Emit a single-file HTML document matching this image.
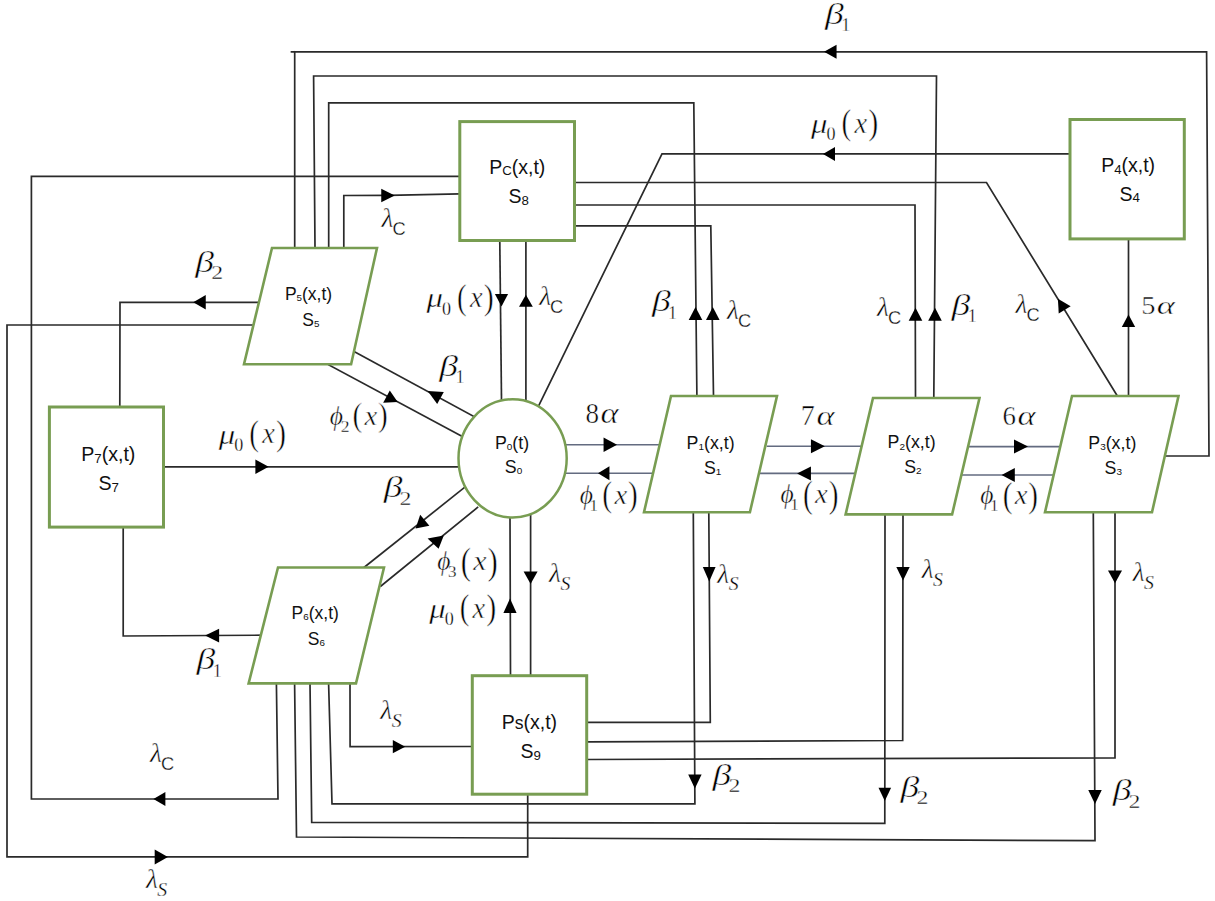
<!DOCTYPE html>
<html><head><meta charset="utf-8"><style>
html,body{margin:0;padding:0;background:#fff;}
body{width:1215px;height:901px;overflow:hidden;}
svg{display:block;}
</style></head><body>
<svg width="1215" height="901" viewBox="0 0 1215 901">
<rect width="1215" height="901" fill="#fff"/>
<polyline points="1163.7,456 1209,456 1206.6,51.8 291.5,51.8" fill="none" stroke="#2a2a2a" stroke-width="1.7" stroke-linejoin="miter" stroke-linecap="square"/>
<polyline points="294.7,51.8 294.7,248" fill="none" stroke="#2a2a2a" stroke-width="1.7" stroke-linejoin="miter" stroke-linecap="square"/>
<polygon points="824.05,51.80 836.55,44.80 836.55,58.80" fill="#000"/>
<polyline points="933.8,398 936.5,76 313.6,76 315,248" fill="none" stroke="#2a2a2a" stroke-width="1.7" stroke-linejoin="miter" stroke-linecap="square"/>
<polygon points="935.00,307.70 941.80,320.70 928.20,320.70" fill="#000"/>
<polyline points="696.9,396 693.8,102.9 328.7,102.9 328.7,248" fill="none" stroke="#2a2a2a" stroke-width="1.7" stroke-linejoin="miter" stroke-linecap="square"/>
<polygon points="695.50,306.90 702.30,319.90 688.70,319.90" fill="#000"/>
<polyline points="343.8,248 343.8,195.5 388,195.3 459,193.9" fill="none" stroke="#2a2a2a" stroke-width="1.7" stroke-linejoin="miter" stroke-linecap="square"/>
<polygon points="394.75,195.50 381.25,202.30 381.25,188.70" fill="#000"/>
<polyline points="459,176.3 31.4,176.3 31.4,799 278,799 276.4,683" fill="none" stroke="#2a2a2a" stroke-width="1.7" stroke-linejoin="miter" stroke-linecap="square"/>
<polygon points="153.40,799.00 165.40,792.00 165.40,806.00" fill="#000"/>
<polyline points="259,302.3 120,302.3 119.8,405.5" fill="none" stroke="#2a2a2a" stroke-width="1.7" stroke-linejoin="miter" stroke-linecap="square"/>
<polygon points="193.25,302.30 205.75,295.10 205.75,309.50" fill="#000"/>
<polyline points="252,325 7,325 7,856.9 527.7,856.9 527.7,795.7" fill="none" stroke="#2a2a2a" stroke-width="1.7" stroke-linejoin="miter" stroke-linecap="square"/>
<polygon points="167.90,856.90 154.70,864.40 154.70,849.40" fill="#000"/>
<polyline points="499.8,242 501.5,400" fill="none" stroke="#2a2a2a" stroke-width="1.7" stroke-linejoin="miter" stroke-linecap="square"/>
<polygon points="501.50,306.60 494.90,294.00 508.10,294.00" fill="#000"/>
<polyline points="525.9,242 525.9,402" fill="none" stroke="#2a2a2a" stroke-width="1.7" stroke-linejoin="miter" stroke-linecap="square"/>
<polygon points="525.90,294.70 532.80,306.70 519.00,306.70" fill="#000"/>
<polyline points="1068.5,153.8 662,153.8 539,405" fill="none" stroke="#2a2a2a" stroke-width="1.7" stroke-linejoin="miter" stroke-linecap="square"/>
<polygon points="823.00,154.00 835.00,146.90 835.00,161.10" fill="#000"/>
<polyline points="576,182.5 986.5,182.5 1118.6,398" fill="none" stroke="#2a2a2a" stroke-width="1.7" stroke-linejoin="miter" stroke-linecap="square"/>
<polygon points="1057.91,298.76 1070.66,306.19 1058.72,313.50" fill="#000"/>
<polyline points="576,205 915,205 915.5,398" fill="none" stroke="#2a2a2a" stroke-width="1.7" stroke-linejoin="miter" stroke-linecap="square"/>
<polygon points="915.50,307.70 922.30,320.70 908.70,320.70" fill="#000"/>
<polyline points="576,225.8 710.8,225.8 713.5,396" fill="none" stroke="#2a2a2a" stroke-width="1.7" stroke-linejoin="miter" stroke-linecap="square"/>
<polygon points="712.80,306.90 719.60,319.90 706.00,319.90" fill="#000"/>
<polyline points="1128.5,240.4 1128.5,396" fill="none" stroke="#2a2a2a" stroke-width="1.7" stroke-linejoin="miter" stroke-linecap="square"/>
<polygon points="1128.50,314.40 1135.20,327.00 1121.80,327.00" fill="#000"/>
<polyline points="165,466.8 459.5,466.8" fill="none" stroke="#2a2a2a" stroke-width="1.7" stroke-linejoin="miter" stroke-linecap="square"/>
<polygon points="268.65,466.80 255.35,474.00 255.35,459.60" fill="#000"/>
<polyline points="328.9,364.9 462.5,436.5" fill="none" stroke="#2a2a2a" stroke-width="1.7" stroke-linejoin="miter" stroke-linecap="square"/>
<polygon points="389.8,390.5 383.2,402.7 397.7,402.1" fill="#000"/>
<polyline points="474,416.5 352,350.4" fill="none" stroke="#2a2a2a" stroke-width="1.7" stroke-linejoin="miter" stroke-linecap="square"/>
<polygon points="427.7,390.9 443.8,391.9 437.2,404" fill="#000"/>
<polyline points="465.5,486.7 364,567.5" fill="none" stroke="#2a2a2a" stroke-width="1.7" stroke-linejoin="miter" stroke-linecap="square"/>
<polygon points="420.2,514.8 429.4,525.7 415.6,528.6" fill="#000"/>
<polyline points="381,586 477.5,507.5" fill="none" stroke="#2a2a2a" stroke-width="1.7" stroke-linejoin="miter" stroke-linecap="square"/>
<polygon points="427.6,538.4 443.8,535.5 438.6,548.8" fill="#000"/>
<polyline points="565,444.8 659,444.8" fill="none" stroke="#636b80" stroke-width="1.6" stroke-linejoin="miter" stroke-linecap="square"/>
<polygon points="617.05,444.80 603.55,452.00 603.55,437.60" fill="#000"/>
<polyline points="652,473.2 563,473.2" fill="none" stroke="#636b80" stroke-width="1.6" stroke-linejoin="miter" stroke-linecap="square"/>
<polygon points="597.95,473.20 609.45,466.20 609.45,480.20" fill="#000"/>
<polyline points="767.5,446.3 861.5,446.3" fill="none" stroke="#636b80" stroke-width="1.6" stroke-linejoin="miter" stroke-linecap="square"/>
<polygon points="824.85,446.30 810.95,453.30 810.95,439.30" fill="#000"/>
<polyline points="760,473.4 854.6,473.4" fill="none" stroke="#636b80" stroke-width="1.6" stroke-linejoin="miter" stroke-linecap="square"/>
<polygon points="797.05,473.40 810.95,466.40 810.95,480.40" fill="#000"/>
<polyline points="968.3,446.6 1059.9,446.6" fill="none" stroke="#636b80" stroke-width="1.6" stroke-linejoin="miter" stroke-linecap="square"/>
<polygon points="1028.00,446.60 1014.00,453.60 1014.00,439.60" fill="#000"/>
<polyline points="961.4,475 1055.7,475" fill="none" stroke="#636b80" stroke-width="1.6" stroke-linejoin="miter" stroke-linecap="square"/>
<polygon points="1001.60,475.00 1014.80,468.00 1014.80,482.00" fill="#000"/>
<polyline points="530.6,515 530.6,674.2" fill="none" stroke="#2a2a2a" stroke-width="1.7" stroke-linejoin="miter" stroke-linecap="square"/>
<polygon points="530.60,584.05 523.60,571.55 537.60,571.55" fill="#000"/>
<polyline points="510.5,674.2 510,516" fill="none" stroke="#2a2a2a" stroke-width="1.7" stroke-linejoin="miter" stroke-linecap="square"/>
<polygon points="510.00,598.55 516.60,613.05 503.40,613.05" fill="#000"/>
<polyline points="262.3,635.2 123.2,636 123.2,528.6" fill="none" stroke="#2a2a2a" stroke-width="1.7" stroke-linejoin="miter" stroke-linecap="square"/>
<polygon points="205.10,635.60 219.10,628.80 219.10,642.40" fill="#000"/>
<polyline points="350,683.4 350.1,746.7 470.8,746.5" fill="none" stroke="#2a2a2a" stroke-width="1.7" stroke-linejoin="miter" stroke-linecap="square"/>
<polygon points="405.20,746.70 392.80,753.30 392.80,740.10" fill="#000"/>
<polyline points="328.6,683.4 332,803.8 694.9,803.9 693.3,512.2" fill="none" stroke="#2a2a2a" stroke-width="1.7" stroke-linejoin="miter" stroke-linecap="square"/>
<polygon points="694.90,788.45 688.20,774.55 701.60,774.55" fill="#000"/>
<polyline points="310,683.4 311.7,822.3 884.8,823.4 885,514.4" fill="none" stroke="#2a2a2a" stroke-width="1.7" stroke-linejoin="miter" stroke-linecap="square"/>
<polygon points="884.80,800.95 878.50,787.65 891.10,787.65" fill="#000"/>
<polyline points="294.6,683.4 296.5,837 1095,840.7 1093.3,512.2" fill="none" stroke="#2a2a2a" stroke-width="1.7" stroke-linejoin="miter" stroke-linecap="square"/>
<polygon points="1095.00,804.05 1088.25,789.95 1101.75,789.95" fill="#000"/>
<polyline points="588.2,722.4 710.3,722.4 708.8,512.2" fill="none" stroke="#2a2a2a" stroke-width="1.7" stroke-linejoin="miter" stroke-linecap="square"/>
<polygon points="709.20,581.55 702.80,567.05 715.60,567.05" fill="#000"/>
<polyline points="588.2,741.9 902.7,740.5 903,514.4" fill="none" stroke="#2a2a2a" stroke-width="1.7" stroke-linejoin="miter" stroke-linecap="square"/>
<polygon points="903.00,580.55 896.30,567.05 909.70,567.05" fill="#000"/>
<polyline points="588.2,759.5 1115,757.8 1115,512.2" fill="none" stroke="#2a2a2a" stroke-width="1.7" stroke-linejoin="miter" stroke-linecap="square"/>
<polygon points="1115.00,583.15 1108.00,570.45 1122.00,570.45" fill="#000"/>
<rect x="459.8" y="121.6" width="114.7" height="118.9" fill="#fff" stroke="#789d52" stroke-width="3"/>
<rect x="1070" y="119.5" width="114.3" height="119.4" fill="#fff" stroke="#789d52" stroke-width="3"/>
<rect x="49.4" y="407" width="114.1" height="120.1" fill="#fff" stroke="#789d52" stroke-width="3"/>
<rect x="472.3" y="675.7" width="114.4" height="118.5" fill="#fff" stroke="#789d52" stroke-width="3"/>
<ellipse cx="512.6" cy="458.35" rx="54.1" ry="59.1" fill="#fff" stroke="#789d52" stroke-width="2.5"/>
<polygon points="272,248 377,248 351.1,364.2 244,364.2" fill="#fff" stroke="#789d52" stroke-width="2.6" stroke-linejoin="miter"/>
<polygon points="278,567.5 384,567.5 356,683.4 248.6,683.4" fill="#fff" stroke="#789d52" stroke-width="2.6" stroke-linejoin="miter"/>
<polygon points="671,396 777,396 749.9,512.2 644,512.2" fill="#fff" stroke="#789d52" stroke-width="2.6" stroke-linejoin="miter"/>
<polygon points="873,398 979.5,398 952.1,514.4 845.6,514.4" fill="#fff" stroke="#789d52" stroke-width="2.6" stroke-linejoin="miter"/>
<polygon points="1072,396 1178.5,396 1152,512.2 1045,512.2" fill="#fff" stroke="#789d52" stroke-width="2.6" stroke-linejoin="miter"/>
<text x="489.14" y="173.70" style="font-family:&quot;Liberation Sans&quot;,sans-serif;font-size:19.50px" fill="#111">P<tspan style="font-size:13.26px" dy="1.50">C</tspan><tspan dy="-1.50">(x,t)</tspan></text>
<text x="508.42" y="203.00" style="font-family:&quot;Liberation Sans&quot;,sans-serif;font-size:19.50px" fill="#111">S<tspan style="font-size:13.26px" dy="1.50">8</tspan></text>
<text x="1101.14" y="172.30" style="font-family:&quot;Liberation Sans&quot;,sans-serif;font-size:19.50px" fill="#111">P<tspan style="font-size:13.26px" dy="1.50">4</tspan><tspan dy="-1.50">(x,t)</tspan></text>
<text x="1119.42" y="200.60" style="font-family:&quot;Liberation Sans&quot;,sans-serif;font-size:19.50px" fill="#111">S<tspan style="font-size:13.26px" dy="1.50">4</tspan></text>
<text x="81.13" y="461.00" style="font-family:&quot;Liberation Sans&quot;,sans-serif;font-size:19.60px" fill="#111">P<tspan style="font-size:13.33px" dy="1.50">7</tspan><tspan dy="-1.50">(x,t)</tspan></text>
<text x="98.42" y="490.00" style="font-family:&quot;Liberation Sans&quot;,sans-serif;font-size:19.60px" fill="#111">S<tspan style="font-size:13.33px" dy="1.50">7</tspan></text>
<text x="501.74" y="729.30" style="font-family:&quot;Liberation Sans&quot;,sans-serif;font-size:19.50px" fill="#111">P<tspan style="font-size:17.55px" dy="0.00">s</tspan><tspan dy="0.00">(x,t)</tspan></text>
<text x="520.42" y="758.30" style="font-family:&quot;Liberation Sans&quot;,sans-serif;font-size:19.50px" fill="#111">S<tspan style="font-size:13.26px" dy="1.50">9</tspan></text>
<text x="284.90" y="299.60" style="font-family:&quot;Liberation Sans&quot;,sans-serif;font-size:17.50px" fill="#111">P<tspan style="font-size:9.80px" dy="1.40">5</tspan><tspan dy="-1.40">(x,t)</tspan></text>
<text x="302.21" y="325.60" style="font-family:&quot;Liberation Sans&quot;,sans-serif;font-size:17.50px" fill="#111">S<tspan style="font-size:9.80px" dy="1.40">5</tspan></text>
<text x="291.60" y="619.00" style="font-family:&quot;Liberation Sans&quot;,sans-serif;font-size:17.50px" fill="#111">P<tspan style="font-size:9.80px" dy="1.40">6</tspan><tspan dy="-1.40">(x,t)</tspan></text>
<text x="307.81" y="645.00" style="font-family:&quot;Liberation Sans&quot;,sans-serif;font-size:17.50px" fill="#111">S<tspan style="font-size:9.80px" dy="1.40">6</tspan></text>
<text x="686.58" y="448.70" style="font-family:&quot;Liberation Sans&quot;,sans-serif;font-size:17.80px" fill="#111">P<tspan style="font-size:9.97px" dy="1.40">1</tspan><tspan dy="-1.40">(x,t)</tspan></text>
<text x="703.90" y="474.00" style="font-family:&quot;Liberation Sans&quot;,sans-serif;font-size:17.80px" fill="#111">S<tspan style="font-size:9.97px" dy="1.40">1</tspan></text>
<text x="887.58" y="448.30" style="font-family:&quot;Liberation Sans&quot;,sans-serif;font-size:17.80px" fill="#111">P<tspan style="font-size:9.97px" dy="1.40">2</tspan><tspan dy="-1.40">(x,t)</tspan></text>
<text x="904.20" y="472.60" style="font-family:&quot;Liberation Sans&quot;,sans-serif;font-size:17.80px" fill="#111">S<tspan style="font-size:9.97px" dy="1.40">2</tspan></text>
<text x="1088.28" y="448.60" style="font-family:&quot;Liberation Sans&quot;,sans-serif;font-size:17.80px" fill="#111">P<tspan style="font-size:9.97px" dy="1.40">3</tspan><tspan dy="-1.40">(x,t)</tspan></text>
<text x="1104.50" y="473.60" style="font-family:&quot;Liberation Sans&quot;,sans-serif;font-size:17.80px" fill="#111">S<tspan style="font-size:9.97px" dy="1.40">3</tspan></text>
<text x="494.88" y="448.60" style="font-family:&quot;Liberation Sans&quot;,sans-serif;font-size:17.80px" fill="#111">P<tspan style="font-size:9.97px" dy="1.40">0</tspan><tspan dy="-1.40">(t)</tspan></text>
<text x="504.80" y="472.60" style="font-family:&quot;Liberation Sans&quot;,sans-serif;font-size:17.80px" fill="#111">S<tspan style="font-size:9.97px" dy="1.40">0</tspan></text>
<text transform="translate(825.06,23.50) scale(1.295,1)" style="font-family:&quot;Liberation Serif&quot;,serif;font-style:italic;font-size:29.07px" fill="#000" stroke="#fff" stroke-width="0.47">β</text>
<text transform="translate(841.46,31.40) scale(0.891,1)" style="font-family:&quot;Liberation Serif&quot;,serif;font-size:19.24px" fill="#000" stroke="#fff" stroke-width="0.31">1</text>
<text transform="translate(195.36,271.50) scale(1.295,1)" style="font-family:&quot;Liberation Serif&quot;,serif;font-style:italic;font-size:29.07px" fill="#000" stroke="#fff" stroke-width="0.47">β</text>
<text transform="translate(211.23,279.40) scale(1.244,1)" style="font-family:&quot;Liberation Serif&quot;,serif;font-size:19.09px" fill="#000" stroke="#fff" stroke-width="0.31">2</text>
<text transform="translate(439.36,375.50) scale(1.295,1)" style="font-family:&quot;Liberation Serif&quot;,serif;font-style:italic;font-size:29.07px" fill="#000" stroke="#fff" stroke-width="0.47">β</text>
<text transform="translate(455.76,383.40) scale(0.891,1)" style="font-family:&quot;Liberation Serif&quot;,serif;font-size:19.24px" fill="#000" stroke="#fff" stroke-width="0.31">1</text>
<text transform="translate(383.66,496.80) scale(1.295,1)" style="font-family:&quot;Liberation Serif&quot;,serif;font-style:italic;font-size:29.07px" fill="#000" stroke="#fff" stroke-width="0.47">β</text>
<text transform="translate(399.53,504.70) scale(1.244,1)" style="font-family:&quot;Liberation Serif&quot;,serif;font-size:19.09px" fill="#000" stroke="#fff" stroke-width="0.31">2</text>
<text transform="translate(196.56,668.90) scale(1.295,1)" style="font-family:&quot;Liberation Serif&quot;,serif;font-style:italic;font-size:29.07px" fill="#000" stroke="#fff" stroke-width="0.47">β</text>
<text transform="translate(212.96,676.80) scale(0.891,1)" style="font-family:&quot;Liberation Serif&quot;,serif;font-size:19.24px" fill="#000" stroke="#fff" stroke-width="0.31">1</text>
<text transform="translate(651.96,311.40) scale(1.295,1)" style="font-family:&quot;Liberation Serif&quot;,serif;font-style:italic;font-size:29.07px" fill="#000" stroke="#fff" stroke-width="0.47">β</text>
<text transform="translate(668.36,319.30) scale(0.891,1)" style="font-family:&quot;Liberation Serif&quot;,serif;font-size:19.24px" fill="#000" stroke="#fff" stroke-width="0.31">1</text>
<text transform="translate(951.56,314.50) scale(1.295,1)" style="font-family:&quot;Liberation Serif&quot;,serif;font-style:italic;font-size:29.07px" fill="#000" stroke="#fff" stroke-width="0.47">β</text>
<text transform="translate(967.96,322.40) scale(0.891,1)" style="font-family:&quot;Liberation Serif&quot;,serif;font-size:19.24px" fill="#000" stroke="#fff" stroke-width="0.31">1</text>
<text transform="translate(712.56,784.50) scale(1.295,1)" style="font-family:&quot;Liberation Serif&quot;,serif;font-style:italic;font-size:29.07px" fill="#000" stroke="#fff" stroke-width="0.47">β</text>
<text transform="translate(728.43,792.40) scale(1.244,1)" style="font-family:&quot;Liberation Serif&quot;,serif;font-size:19.09px" fill="#000" stroke="#fff" stroke-width="0.31">2</text>
<text transform="translate(900.56,796.50) scale(1.295,1)" style="font-family:&quot;Liberation Serif&quot;,serif;font-style:italic;font-size:29.07px" fill="#000" stroke="#fff" stroke-width="0.47">β</text>
<text transform="translate(916.43,804.40) scale(1.244,1)" style="font-family:&quot;Liberation Serif&quot;,serif;font-size:19.09px" fill="#000" stroke="#fff" stroke-width="0.31">2</text>
<text transform="translate(1112.66,800.00) scale(1.295,1)" style="font-family:&quot;Liberation Serif&quot;,serif;font-style:italic;font-size:29.07px" fill="#000" stroke="#fff" stroke-width="0.47">β</text>
<text transform="translate(1128.53,807.90) scale(1.244,1)" style="font-family:&quot;Liberation Serif&quot;,serif;font-size:19.09px" fill="#000" stroke="#fff" stroke-width="0.31">2</text>
<text transform="translate(811.00,132.60) scale(1.194,1)" style="font-family:&quot;Liberation Serif&quot;,serif;font-style:italic;font-size:27.61px" fill="#000" stroke="#fff" stroke-width="0.44">μ</text>
<text transform="translate(826.48,140.22) scale(0.985,1)" style="font-family:&quot;Liberation Serif&quot;,serif;font-size:18.37px" fill="#000" stroke="#fff" stroke-width="0.29">0</text>
<text transform="translate(841.49,134.30) scale(0.791,1)" style="font-family:&quot;Liberation Serif&quot;,serif;font-size:36.67px" fill="#000" stroke="#fff" stroke-width="0.59">(</text>
<text transform="translate(854.38,132.50) scale(0.991,1)" style="font-family:&quot;Liberation Serif&quot;,serif;font-style:italic;font-size:28.57px" fill="#000" stroke="#fff" stroke-width="0.46">x</text>
<text transform="translate(878.14,134.30) scale(-0.813,1)" style="font-family:&quot;Liberation Serif&quot;,serif;font-size:36.67px" fill="#000" stroke="#fff" stroke-width="0.59">(</text>
<text transform="translate(426.60,307.20) scale(1.194,1)" style="font-family:&quot;Liberation Serif&quot;,serif;font-style:italic;font-size:27.61px" fill="#000" stroke="#fff" stroke-width="0.44">μ</text>
<text transform="translate(442.08,314.82) scale(0.985,1)" style="font-family:&quot;Liberation Serif&quot;,serif;font-size:18.37px" fill="#000" stroke="#fff" stroke-width="0.29">0</text>
<text transform="translate(457.09,308.90) scale(0.791,1)" style="font-family:&quot;Liberation Serif&quot;,serif;font-size:36.67px" fill="#000" stroke="#fff" stroke-width="0.59">(</text>
<text transform="translate(469.98,307.10) scale(0.991,1)" style="font-family:&quot;Liberation Serif&quot;,serif;font-style:italic;font-size:28.57px" fill="#000" stroke="#fff" stroke-width="0.46">x</text>
<text transform="translate(493.74,308.90) scale(-0.813,1)" style="font-family:&quot;Liberation Serif&quot;,serif;font-size:36.67px" fill="#000" stroke="#fff" stroke-width="0.59">(</text>
<text transform="translate(218.80,443.50) scale(1.194,1)" style="font-family:&quot;Liberation Serif&quot;,serif;font-style:italic;font-size:27.61px" fill="#000" stroke="#fff" stroke-width="0.44">μ</text>
<text transform="translate(234.28,451.12) scale(0.985,1)" style="font-family:&quot;Liberation Serif&quot;,serif;font-size:18.37px" fill="#000" stroke="#fff" stroke-width="0.29">0</text>
<text transform="translate(249.29,445.20) scale(0.791,1)" style="font-family:&quot;Liberation Serif&quot;,serif;font-size:36.67px" fill="#000" stroke="#fff" stroke-width="0.59">(</text>
<text transform="translate(262.18,443.40) scale(0.991,1)" style="font-family:&quot;Liberation Serif&quot;,serif;font-style:italic;font-size:28.57px" fill="#000" stroke="#fff" stroke-width="0.46">x</text>
<text transform="translate(285.94,445.20) scale(-0.813,1)" style="font-family:&quot;Liberation Serif&quot;,serif;font-size:36.67px" fill="#000" stroke="#fff" stroke-width="0.59">(</text>
<text transform="translate(429.20,617.60) scale(1.194,1)" style="font-family:&quot;Liberation Serif&quot;,serif;font-style:italic;font-size:27.61px" fill="#000" stroke="#fff" stroke-width="0.44">μ</text>
<text transform="translate(444.68,625.22) scale(0.985,1)" style="font-family:&quot;Liberation Serif&quot;,serif;font-size:18.37px" fill="#000" stroke="#fff" stroke-width="0.29">0</text>
<text transform="translate(459.69,619.30) scale(0.791,1)" style="font-family:&quot;Liberation Serif&quot;,serif;font-size:36.67px" fill="#000" stroke="#fff" stroke-width="0.59">(</text>
<text transform="translate(472.58,617.50) scale(0.991,1)" style="font-family:&quot;Liberation Serif&quot;,serif;font-style:italic;font-size:28.57px" fill="#000" stroke="#fff" stroke-width="0.46">x</text>
<text transform="translate(496.34,619.30) scale(-0.813,1)" style="font-family:&quot;Liberation Serif&quot;,serif;font-size:36.67px" fill="#000" stroke="#fff" stroke-width="0.59">(</text>
<text transform="translate(329.86,424.81) scale(0.959,1)" style="font-family:&quot;Liberation Serif&quot;,serif;font-style:italic;font-size:26.63px" fill="#000" stroke="#fff" stroke-width="0.43">ϕ</text>
<text transform="translate(340.71,431.90) scale(1.013,1)" style="font-family:&quot;Liberation Serif&quot;,serif;font-size:17.27px" fill="#000" stroke="#fff" stroke-width="0.28">2</text>
<text transform="translate(352.38,425.90) scale(0.882,1)" style="font-family:&quot;Liberation Serif&quot;,serif;font-size:33.33px" fill="#000" stroke="#fff" stroke-width="0.53">(</text>
<text transform="translate(364.49,424.70) scale(1.047,1)" style="font-family:&quot;Liberation Serif&quot;,serif;font-style:italic;font-size:27.47px" fill="#000" stroke="#fff" stroke-width="0.44">x</text>
<text transform="translate(387.82,425.90) scale(-0.882,1)" style="font-family:&quot;Liberation Serif&quot;,serif;font-size:33.33px" fill="#000" stroke="#fff" stroke-width="0.53">(</text>
<text transform="translate(437.16,569.81) scale(0.959,1)" style="font-family:&quot;Liberation Serif&quot;,serif;font-style:italic;font-size:26.63px" fill="#000" stroke="#fff" stroke-width="0.43">ϕ</text>
<text transform="translate(447.95,576.73) scale(1.003,1)" style="font-family:&quot;Liberation Serif&quot;,serif;font-size:17.01px" fill="#000" stroke="#fff" stroke-width="0.27">3</text>
<text transform="translate(460.68,573.66) scale(0.824,1)" style="font-family:&quot;Liberation Serif&quot;,serif;font-size:37.33px" fill="#000" stroke="#fff" stroke-width="0.60">(</text>
<text transform="translate(473.35,569.70) scale(1.095,1)" style="font-family:&quot;Liberation Serif&quot;,serif;font-style:italic;font-size:27.47px" fill="#000" stroke="#fff" stroke-width="0.44">x</text>
<text transform="translate(497.76,573.66) scale(-0.824,1)" style="font-family:&quot;Liberation Serif&quot;,serif;font-size:37.33px" fill="#000" stroke="#fff" stroke-width="0.60">(</text>
<text transform="translate(579.76,503.61) scale(0.959,1)" style="font-family:&quot;Liberation Serif&quot;,serif;font-style:italic;font-size:26.63px" fill="#000" stroke="#fff" stroke-width="0.43">ϕ</text>
<text transform="translate(589.86,510.70) scale(0.919,1)" style="font-family:&quot;Liberation Serif&quot;,serif;font-size:17.40px" fill="#000" stroke="#fff" stroke-width="0.28">1</text>
<text transform="translate(602.28,506.08) scale(0.832,1)" style="font-family:&quot;Liberation Serif&quot;,serif;font-size:35.33px" fill="#000" stroke="#fff" stroke-width="0.57">(</text>
<text transform="translate(614.39,503.50) scale(1.047,1)" style="font-family:&quot;Liberation Serif&quot;,serif;font-style:italic;font-size:27.47px" fill="#000" stroke="#fff" stroke-width="0.44">x</text>
<text transform="translate(637.72,506.08) scale(-0.832,1)" style="font-family:&quot;Liberation Serif&quot;,serif;font-size:35.33px" fill="#000" stroke="#fff" stroke-width="0.57">(</text>
<text transform="translate(780.46,502.91) scale(0.959,1)" style="font-family:&quot;Liberation Serif&quot;,serif;font-style:italic;font-size:26.63px" fill="#000" stroke="#fff" stroke-width="0.43">ϕ</text>
<text transform="translate(790.56,510.00) scale(0.919,1)" style="font-family:&quot;Liberation Serif&quot;,serif;font-size:17.40px" fill="#000" stroke="#fff" stroke-width="0.28">1</text>
<text transform="translate(802.98,506.53) scale(0.795,1)" style="font-family:&quot;Liberation Serif&quot;,serif;font-size:37.00px" fill="#000" stroke="#fff" stroke-width="0.59">(</text>
<text transform="translate(815.09,502.80) scale(1.047,1)" style="font-family:&quot;Liberation Serif&quot;,serif;font-style:italic;font-size:27.47px" fill="#000" stroke="#fff" stroke-width="0.44">x</text>
<text transform="translate(838.42,506.53) scale(-0.795,1)" style="font-family:&quot;Liberation Serif&quot;,serif;font-size:37.00px" fill="#000" stroke="#fff" stroke-width="0.59">(</text>
<text transform="translate(980.16,503.61) scale(0.959,1)" style="font-family:&quot;Liberation Serif&quot;,serif;font-style:italic;font-size:26.63px" fill="#000" stroke="#fff" stroke-width="0.43">ϕ</text>
<text transform="translate(990.26,510.70) scale(0.919,1)" style="font-family:&quot;Liberation Serif&quot;,serif;font-size:17.40px" fill="#000" stroke="#fff" stroke-width="0.28">1</text>
<text transform="translate(1002.68,506.69) scale(0.812,1)" style="font-family:&quot;Liberation Serif&quot;,serif;font-size:36.22px" fill="#000" stroke="#fff" stroke-width="0.58">(</text>
<text transform="translate(1014.79,503.50) scale(1.047,1)" style="font-family:&quot;Liberation Serif&quot;,serif;font-style:italic;font-size:27.47px" fill="#000" stroke="#fff" stroke-width="0.44">x</text>
<text transform="translate(1038.12,506.69) scale(-0.812,1)" style="font-family:&quot;Liberation Serif&quot;,serif;font-size:36.22px" fill="#000" stroke="#fff" stroke-width="0.58">(</text>
<text transform="translate(381.49,226.70) scale(1.006,1)" style="font-family:&quot;Liberation Serif&quot;,serif;font-style:italic;font-size:27.43px" fill="#000" stroke="#fff" stroke-width="0.44">λ</text>
<text transform="translate(392.39,234.51) scale(0.982,1)" style="font-family:&quot;Liberation Sans&quot;,sans-serif;font-size:18.59px" fill="#000" stroke="#fff" stroke-width="0.30">C</text>
<text transform="translate(539.19,305.40) scale(1.006,1)" style="font-family:&quot;Liberation Serif&quot;,serif;font-style:italic;font-size:27.43px" fill="#000" stroke="#fff" stroke-width="0.44">λ</text>
<text transform="translate(550.09,313.21) scale(0.982,1)" style="font-family:&quot;Liberation Sans&quot;,sans-serif;font-size:18.59px" fill="#000" stroke="#fff" stroke-width="0.30">C</text>
<text transform="translate(150.09,762.00) scale(1.006,1)" style="font-family:&quot;Liberation Serif&quot;,serif;font-style:italic;font-size:27.43px" fill="#000" stroke="#fff" stroke-width="0.44">λ</text>
<text transform="translate(160.99,769.81) scale(0.982,1)" style="font-family:&quot;Liberation Sans&quot;,sans-serif;font-size:18.59px" fill="#000" stroke="#fff" stroke-width="0.30">C</text>
<text transform="translate(145.89,888.30) scale(1.006,1)" style="font-family:&quot;Liberation Serif&quot;,serif;font-style:italic;font-size:27.43px" fill="#000" stroke="#fff" stroke-width="0.44">λ</text>
<text transform="translate(157.30,895.91) scale(1.036,1)" style="font-family:&quot;Liberation Serif&quot;,serif;font-style:italic;font-size:19.10px" fill="#000" stroke="#fff" stroke-width="0.31">S</text>
<text transform="translate(380.29,718.90) scale(1.006,1)" style="font-family:&quot;Liberation Serif&quot;,serif;font-style:italic;font-size:27.43px" fill="#000" stroke="#fff" stroke-width="0.44">λ</text>
<text transform="translate(391.70,726.51) scale(1.036,1)" style="font-family:&quot;Liberation Serif&quot;,serif;font-style:italic;font-size:19.10px" fill="#000" stroke="#fff" stroke-width="0.31">S</text>
<text transform="translate(549.09,582.20) scale(1.006,1)" style="font-family:&quot;Liberation Serif&quot;,serif;font-style:italic;font-size:27.43px" fill="#000" stroke="#fff" stroke-width="0.44">λ</text>
<text transform="translate(560.50,589.81) scale(1.036,1)" style="font-family:&quot;Liberation Serif&quot;,serif;font-style:italic;font-size:19.10px" fill="#000" stroke="#fff" stroke-width="0.31">S</text>
<text transform="translate(727.09,319.40) scale(1.006,1)" style="font-family:&quot;Liberation Serif&quot;,serif;font-style:italic;font-size:27.43px" fill="#000" stroke="#fff" stroke-width="0.44">λ</text>
<text transform="translate(737.99,327.21) scale(0.982,1)" style="font-family:&quot;Liberation Sans&quot;,sans-serif;font-size:18.59px" fill="#000" stroke="#fff" stroke-width="0.30">C</text>
<text transform="translate(877.09,316.10) scale(1.006,1)" style="font-family:&quot;Liberation Serif&quot;,serif;font-style:italic;font-size:27.43px" fill="#000" stroke="#fff" stroke-width="0.44">λ</text>
<text transform="translate(887.99,323.91) scale(0.982,1)" style="font-family:&quot;Liberation Sans&quot;,sans-serif;font-size:18.59px" fill="#000" stroke="#fff" stroke-width="0.30">C</text>
<text transform="translate(1015.59,313.20) scale(1.006,1)" style="font-family:&quot;Liberation Serif&quot;,serif;font-style:italic;font-size:27.43px" fill="#000" stroke="#fff" stroke-width="0.44">λ</text>
<text transform="translate(1026.49,321.01) scale(0.982,1)" style="font-family:&quot;Liberation Sans&quot;,sans-serif;font-size:18.59px" fill="#000" stroke="#fff" stroke-width="0.30">C</text>
<text transform="translate(717.29,582.50) scale(1.006,1)" style="font-family:&quot;Liberation Serif&quot;,serif;font-style:italic;font-size:27.43px" fill="#000" stroke="#fff" stroke-width="0.44">λ</text>
<text transform="translate(728.70,590.11) scale(1.036,1)" style="font-family:&quot;Liberation Serif&quot;,serif;font-style:italic;font-size:19.10px" fill="#000" stroke="#fff" stroke-width="0.31">S</text>
<text transform="translate(921.69,578.00) scale(1.006,1)" style="font-family:&quot;Liberation Serif&quot;,serif;font-style:italic;font-size:27.43px" fill="#000" stroke="#fff" stroke-width="0.44">λ</text>
<text transform="translate(933.10,585.61) scale(1.036,1)" style="font-family:&quot;Liberation Serif&quot;,serif;font-style:italic;font-size:19.10px" fill="#000" stroke="#fff" stroke-width="0.31">S</text>
<text transform="translate(1132.69,581.20) scale(1.006,1)" style="font-family:&quot;Liberation Serif&quot;,serif;font-style:italic;font-size:27.43px" fill="#000" stroke="#fff" stroke-width="0.44">λ</text>
<text transform="translate(1144.10,588.81) scale(1.036,1)" style="font-family:&quot;Liberation Serif&quot;,serif;font-style:italic;font-size:19.10px" fill="#000" stroke="#fff" stroke-width="0.31">S</text>
<text transform="translate(585.51,423.11) scale(0.944,1)" style="font-family:&quot;Liberation Serif&quot;,serif;font-size:28.74px" fill="#000" stroke="#fff" stroke-width="0.46">8</text>
<text transform="translate(600.46,423.11) scale(1.193,1)" style="font-family:&quot;Liberation Serif&quot;,serif;font-style:italic;font-size:28.94px" fill="#000" stroke="#fff" stroke-width="0.46">α</text>
<text transform="translate(800.77,424.94) scale(0.978,1)" style="font-family:&quot;Liberation Serif&quot;,serif;font-size:28.77px" fill="#000" stroke="#fff" stroke-width="0.46">7</text>
<text transform="translate(816.46,424.52) scale(1.237,1)" style="font-family:&quot;Liberation Serif&quot;,serif;font-style:italic;font-size:27.89px" fill="#000" stroke="#fff" stroke-width="0.45">α</text>
<text transform="translate(1002.49,425.23) scale(0.998,1)" style="font-family:&quot;Liberation Serif&quot;,serif;font-size:26.87px" fill="#000" stroke="#fff" stroke-width="0.43">6</text>
<text transform="translate(1017.56,425.23) scale(1.285,1)" style="font-family:&quot;Liberation Serif&quot;,serif;font-style:italic;font-size:26.85px" fill="#000" stroke="#fff" stroke-width="0.43">α</text>
<text transform="translate(1141.29,314.14) scale(1.102,1)" style="font-family:&quot;Liberation Serif&quot;,serif;font-size:25.86px" fill="#000" stroke="#fff" stroke-width="0.41">5</text>
<text transform="translate(1156.86,314.14) scale(1.345,1)" style="font-family:&quot;Liberation Serif&quot;,serif;font-style:italic;font-size:25.66px" fill="#000" stroke="#fff" stroke-width="0.41">α</text>
</svg></body></html>
